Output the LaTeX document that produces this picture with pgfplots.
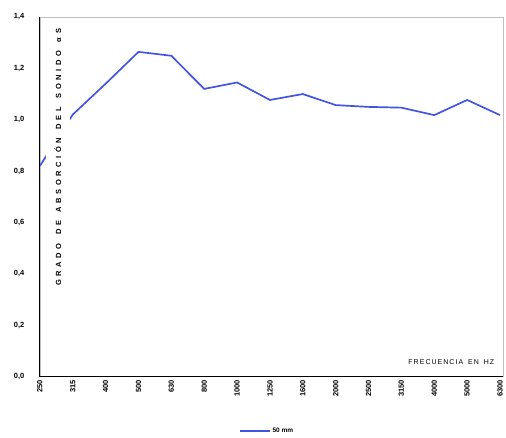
\documentclass[border=0pt]{standalone}
\usepackage{fontspec}
\setmainfont{Liberation Sans}
\usepackage{pgfplots}
\pgfplotsset{compat=1.18}
\definecolor{lineblue}{RGB}{66,84,226}
\begin{document}
\begin{tikzpicture}
\begin{axis}[
  name=ax,
  scale only axis,
  width=465pt, height=361pt,
  xmin=0, xmax=14.1,
  ymin=0, ymax=1.4,
  xtick={0,...,14},
  xticklabels={250,315,400,500,630,800,1000,1250,1600,2000,2500,3150,4000,5000,6300},
  x tick label style={rotate=90, anchor=east, font=\fontsize{7.5}{8}\selectfont\bfseries},
  ytick={0,0.2,...,1.4},
  y tick label style={xshift=-12pt, font=\fontsize{7.5}{8}\selectfont\bfseries},
  /pgf/number format/assume math mode=true,
  /pgf/number format/.cd, use comma, fixed, fixed zerofill, precision=1,
  /pgfplots/.cd,
  major tick length=0pt,
  axis line style={draw=gray!50, line width=0.6pt},
  clip=false,
  legend style={at={(axis description cs:0.49,-0.15)}, anchor=center, draw=none,
    font=\fontsize{6.5}{7}\selectfont\bfseries, legend cell align=left},
  legend image code/.code={\draw[#1, line width=1.8pt] (0pt,0pt) -- (30pt,0pt);},
]
\addplot[color=lineblue, line width=1.7pt, mark=none] coordinates {
  (0,0.82) (1,1.02) (2,1.14) (3,1.264) (4,1.249) (5,1.12) (6,1.145) (7,1.077)
  (8,1.10) (9,1.057) (10,1.05) (11,1.047) (12,1.018) (13,1.077) (14,1.018)
};
\addlegendentry{50 mm}
\draw[black, line width=1.2pt] (axis description cs:0,1) -- (axis description cs:0,0) -- (axis description cs:1,0);
\node[fill=white, inner xsep=2pt, inner ysep=9pt, rotate=90, font=\fontsize{7.5}{8}\selectfont\bfseries\addfontfeature{LetterSpace=48}]
  at (axis description cs:0.039,0.61) {GRADO\hspace{3pt} DE\hspace{3pt} ABSORCIÓN\hspace{3pt} DEL\hspace{3pt} SONIDO\hspace{3pt} αS};
\node[anchor=east, font=\fontsize{7}{8}\selectfont\addfontfeature{LetterSpace=15}]
  at (axis description cs:0.988,0.042) {FRECUENCIA\hspace{2pt} EN\hspace{2pt} HZ};
\end{axis}
\path[use as bounding box] ([xshift=-40pt,yshift=-60pt]ax.south west) rectangle ([xshift=1pt,yshift=17pt]ax.north east);
\end{tikzpicture}
\end{document}
